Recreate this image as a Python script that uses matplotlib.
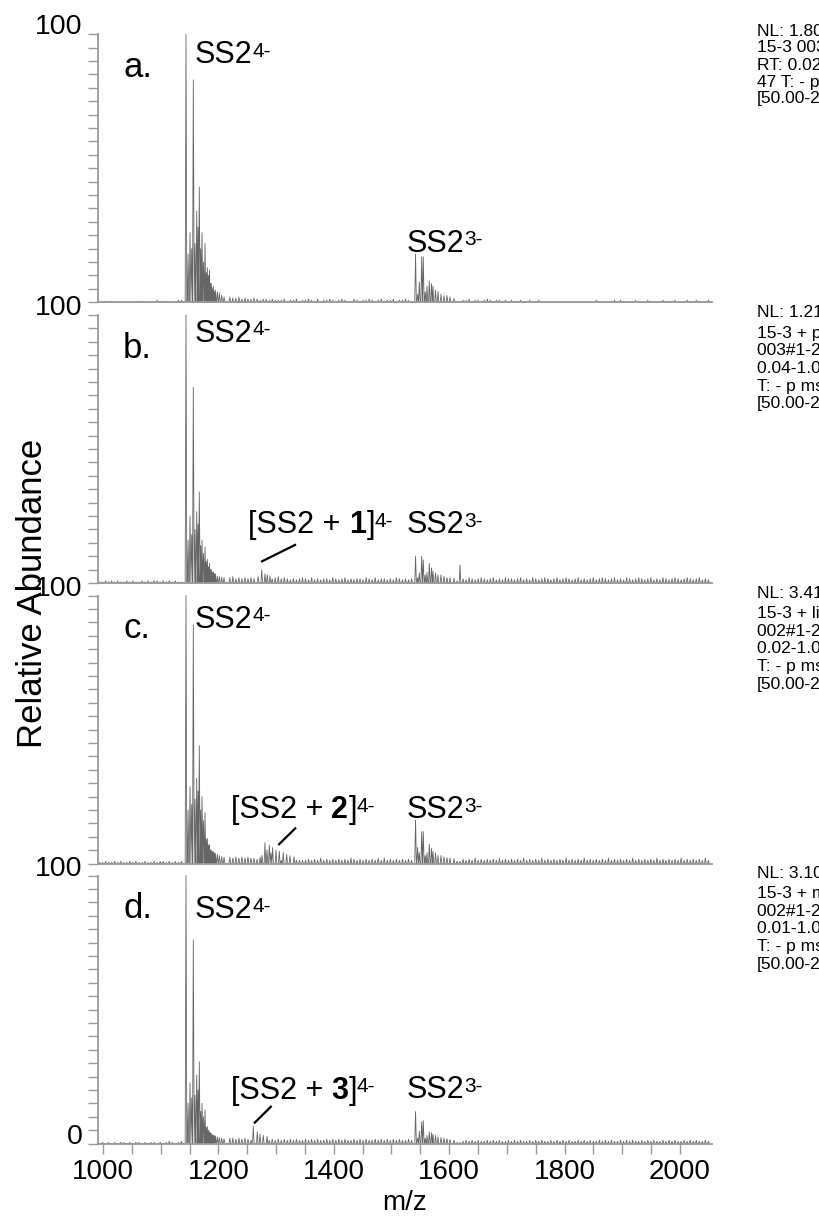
import matplotlib; matplotlib.use("Agg")
import matplotlib.pyplot as plt
import numpy as np

plt.rcParams['font.family'] = ['Liberation Sans', 'DejaVu Sans']

# ---- data (m/z, relative abundance %) ----
panel_keys = ["a", "b", "c", "d"]

# SS2 4- cluster
ss4_mz = [1143.8, 1147.4, 1150.8, 1153.7, 1156.5, 1159.4, 1162.4, 1164.7, 1166.9, 1169.3,
          1171.6, 1174.1, 1176.8, 1178.8, 1180.8, 1183.0, 1184.5, 1186.3, 1187.7, 1189.5,
          1191.2, 1193.0, 1194.7, 1198.1, 1201.6, 1205.7, 1209.8]
ss4_a = [100, 18, 26, 20, 83, 22, 34, 28, 43, 20, 26, 15, 22, 11, 13, 10, 12, 7, 7, 5, 6, 4, 4.6, 4, 3.5, 2.7, 2]
ss4_b = [100, 16, 25, 18, 73, 20, 26.6, 22, 34, 14, 16, 11, 13.5, 8, 8.8, 6, 7.3, 5, 4.9, 4, 4.2, 3.5, 3.4, 2.6, 2.4, 2.2, 2]
ss4_c = [100, 20, 28.7, 22, 89, 24, 31.8, 27, 44, 20, 25, 16, 19, 9, 9.4, 7, 6.9, 5, 5, 4.5, 4.4, 4, 3.8, 3.5, 3, 2.6, 2.4]
ss4_d = [100, 15, 22.7, 17, 76, 18, 25.6, 20, 30.5, 12, 15, 10, 12.5, 6, 6.3, 5, 4.4, 4, 3.8, 3.2, 3.2, 2.9, 2.8, 2.5, 2.2, 2, 1.8]

# SS2 3- cluster
ss3_mz = [1541.7, 1545.3, 1548.2, 1552.3, 1555.1, 1558.4, 1561.5, 1565.5, 1569.3, 1571.9,
          1576.3, 1580.6, 1585.8, 1591.0, 1596.2, 1601.4, 1608.3]
ss3_a = [18, 3, 7.6, 17, 17, 4, 6, 8, 7, 6, 4.5, 4, 3, 2.5, 2.5, 2, 1.5]
ss3_b = [10, 2, 3.8, 10, 8.6, 3, 4, 7.3, 5.6, 4.5, 3.8, 3, 3, 2.5, 2, 2, 1.8]
ss3_c = [16.2, 6, 4, 11.9, 11.9, 3, 4, 7.2, 5.6, 4.5, 3.9, 3, 3, 2.5, 2.2, 2, 1.8]
ss3_d = [11.9, 2, 4.6, 8.1, 8.5, 2, 3, 4.3, 4, 3.5, 3, 2.5, 2.2, 2, 1.8, 1.5, 1.2]

# adduct clusters [SS2 + n]4- and the extra peak in b
add_b_mz = [1269.0, 1275.1, 1280.7, 1284.7, 1289.4, 1618.7]
add_b = [2.4, 4.9, 3.4, 3.0, 2.5, 6.7]
add_c_mz = [1275.6, 1280.7, 1284.2, 1288.2, 1291.1, 1293.9, 1299.8, 1305.5, 1312.4, 1318.3, 1324.0, 1331.1]
add_c = [3.0, 7.8, 5.0, 6.9, 4.0, 5.9, 5.0, 4.6, 4.1, 3.4, 2.9, 2.5]
add_d_mz = [1260.5, 1267.4, 1272.1, 1277.8, 1284.2]
add_d = [6.5, 4.4, 3.5, 3.0, 2.6]

# baseline noise, one digit per 5.25 m/z from 994, unit 0.4 %
noise_a = ("00101000010010100012110001221" "00000000000000" "54453433432332322"
           "23122312232131223212321132122321231223122321" "1111111111111111"
           "22312212321221212" "112112112101" "000000000000" "100210001202100121002100021012001200210120")
noise_b = ("11212121121211212122121212112" "00000000000000" "56454545455465456"
           "45434345435343443543453434435435344343543434" "2222222222222222"
           "43543454345343544345343543454345345434534345345434534354345434534354345434543453435")
noise_c = ("11211212112121121121221212121" "00000000000000" "65656565546545454"
           "33333333343435343434343543434343535343434343" "2222222222222222"
           "43435343434353434343534343534343435343435343434353434343534343435343434353434343534")
noise_d = ("01010101101011010110101210121" "00000000000000" "55454543434343434"
           "34343433434343343434343343434334343434343343" "1111111111111111"
           "23232322323232232323223232322323232322323232232323223232322323232232323223232322323")

# instrument header text (clipped at the right edge)
nl_a = ["NL: 1.80E6", "15-3 003#1-47", "RT: 0.02-1.00 AV:", "47 T: - p ms", "[50.00-2000.00]"]
nl_b = ["NL: 1.21E6", "15-3 + pep1", "003#1-26 RT:", "0.04-1.00 AV: 23", "T: - p ms", "[50.00-2000.00]"]
nl_c = ["NL: 3.41E5", "15-3 + lig2", "002#1-25 RT:", "0.02-1.00 AV: 24", "T: - p ms", "[50.00-2000.00]"]
nl_d = ["NL: 3.10E5", "15-3 + mol3", "002#1-25 RT:", "0.01-1.00 AV: 25", "T: - p ms", "[50.00-2000.00]"]

add_names = [None, "1", "2", "3"]

panels = [
    (ss4_a, ss3_a, [], [], noise_a, nl_a),
    (ss4_b, ss3_b, add_b_mz, add_b, noise_b, nl_b),
    (ss4_c, ss3_c, add_c_mz, add_c, noise_c, nl_c),
    (ss4_d, ss3_d, add_d_mz, add_d, noise_d, nl_d),
]

# ---- layout (pixels of the 820x1218 reference) ----
W, H = 820, 1218
tops = [34.3, 315.0, 595.5, 875.5]
ph = 268
x0px, x1px = 98, 712
lab4_y = [0.892, 0.90, 0.879, 0.84]
lab3_y = [0.189, 0.185, 0.169, 0.169]
addlab_xy = [None, (0.245, 0.185), (0.216, 0.169), (0.216, 0.166)]
lines = [None, ((1273.8, 7.9), (1334.5, 14.4)), ((1303.8, 6.9), (1334.5, 13.4)), ((1261.7, 7.5), (1292.2, 14.0))]

MAIN = 22
SUP = 15
GRAY = "#9a9a9a"

fig = plt.figure(figsize=(W / 100, H / 100), dpi=100)


def sticks(peaks, noise_str):
    pk_m = [m for m, _ in peaks]
    pts = list(peaks)
    for i, ch in enumerate(noise_str):
        m = 994 + 5.25 * i
        if m > 2053:
            break
        if pk_m and min(abs(m - p) for p in pk_m) < 3:
            continue
        pts.append((m, int(ch) * 0.4))
    pts.sort()
    xs, ys = [], []
    for m, h in pts:
        xs += [m - 1.4, m, m + 1.4]
        ys += [0, h, 0]
    return xs, ys


def label(ax, x, y, parts):
    # parts: list of (text, kind), kind in n / b / sup
    prev = None
    for txt, kind in parts:
        kw = dict(fontsize=SUP if kind == "sup" else MAIN,
                  fontweight="bold" if kind == "b" else "normal", color="black")
        if prev is None:
            prev = ax.text(x, y, txt, transform=ax.transAxes, va="baseline", ha="left", **kw)
        elif kind == "sup":
            prev = ax.annotate(txt, xy=(1, 1), xycoords=prev, xytext=(0, -1),
                               textcoords="offset points", va="top", ha="left", **kw)
        else:
            prev = ax.annotate(txt, xy=(1, 0), xycoords=prev, va="bottom", ha="left", **kw)


for i, (s4, s3, amz, ah, noise, nl) in enumerate(panels):
    bottom = 1 - (tops[i] + ph) / H
    ax = fig.add_axes([x0px / W, bottom, (x1px - x0px) / W, ph / H])
    peaks = list(zip(ss4_mz, s4)) + list(zip(ss3_mz, s3)) + list(zip(amz, ah))
    xs, ys = sticks(peaks, noise)
    ax.plot(xs, ys, color="#666666", lw=0.6, clip_on=False)
    ax.set_xlim(991.3, 2055.5)
    ax.set_ylim(0, 100)
    for s in ["top", "right"]:
        ax.spines[s].set_visible(False)
    for s in ["left", "bottom"]:
        ax.spines[s].set_color(GRAY)
        ax.spines[s].set_linewidth(1.3)
    ax.set_yticks([0, 100], labels=["0" if i == 3 else "", "100"], va="baseline")
    ax.set_yticks(np.arange(5, 100, 5), minor=True)
    ax.tick_params(axis="y", which="both", length=7, width=1, color=GRAY, labelsize=20.5, pad=4)
    if i == 3:
        ax.set_xticks(np.arange(1000, 2001, 200))
        ax.set_xticks(np.arange(1000, 2001, 50), minor=True)
        ax.tick_params(axis="x", which="both", length=7, width=1, color=GRAY, labelsize=20, pad=4)
    else:
        ax.tick_params(axis="x", which="both", bottom=False, labelbottom=False)

    ax.text(0.041, 0.84, panel_keys[i] + ".", transform=ax.transAxes, fontsize=25, va="baseline")
    label(ax, 0.158, lab4_y[i], [("SS2", "n"), ("4-", "sup")])
    label(ax, 0.503, lab3_y[i], [("SS2", "n"), ("3-", "sup")])
    if add_names[i]:
        ax_x, ax_y = addlab_xy[i]
        label(ax, ax_x, ax_y, [("[SS2 + ", "n"), (add_names[i], "b"), ("]", "n"), ("4-", "sup")])
        (lx0, ly0), (lx1, ly1) = lines[i]
        ax.plot([lx0, lx1], [ly0, ly1], color="black", lw=1.6, solid_capstyle="butt")

    # header text at right
    if i == 0:
        ys_px = [tops[i] - 3.3 + 17 * j for j in range(len(nl))]
    else:
        ys_px = [tops[i] - 2.5 + (0 if j == 0 else 20.5 + 17.7 * (j - 1)) for j in range(len(nl))]
    for t, ypx in zip(nl, ys_px):
        fig.text(757 / W, 1 - ypx / H, t, fontsize=12.5, va="center", ha="left")

fig.text(33 / W, 1 - 593 / H, "Relative Abundance", rotation=90, fontsize=25, ha="center", va="center")
fig.text(405 / W, 1 - 1203 / H, "m/z", fontsize=20, ha="center", va="center")

fig.savefig("out.png", dpi=100)
